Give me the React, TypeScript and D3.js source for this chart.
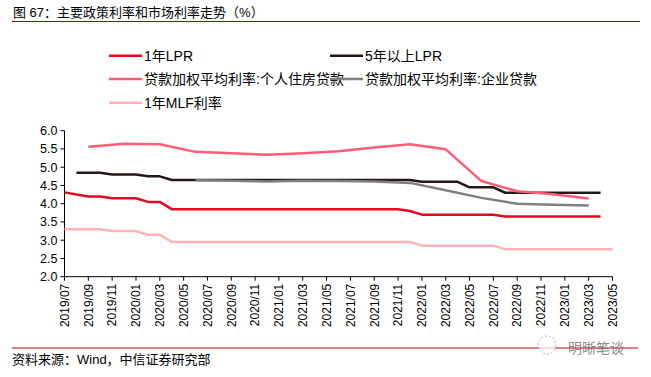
import React from "react";
import * as d3 from "d3";

const months = [
  "2019/07","2019/08","2019/09","2019/10","2019/11","2019/12",
  "2020/01","2020/02","2020/03","2020/04","2020/05","2020/06","2020/07","2020/08","2020/09","2020/10","2020/11","2020/12",
  "2021/01","2021/02","2021/03","2021/04","2021/05","2021/06","2021/07","2021/08","2021/09","2021/10","2021/11","2021/12",
  "2022/01","2022/02","2022/03","2022/04","2022/05","2022/06","2022/07","2022/08","2022/09","2022/10","2022/11","2022/12",
  "2023/01","2023/02","2023/03","2023/04","2023/05",
];

const tickLabels = [
  "2019/07","2019/09","2019/11","2020/01","2020/03","2020/05","2020/07","2020/09","2020/11",
  "2021/01","2021/03","2021/05","2021/07","2021/09","2021/11","2022/01","2022/03","2022/05",
  "2022/07","2022/09","2022/11","2023/01","2023/03","2023/05",
];

const yTicks = [2.0, 2.5, 3.0, 3.5, 4.0, 4.5, 5.0, 5.5, 6.0];

// monthly series (null = no data)
const lpr1y: (number | null)[] = [
  4.31, 4.25, 4.2, 4.2, 4.15, 4.15,
  4.15, 4.05, 4.05, 3.85, 3.85, 3.85, 3.85, 3.85, 3.85, 3.85, 3.85, 3.85,
  3.85, 3.85, 3.85, 3.85, 3.85, 3.85, 3.85, 3.85, 3.85, 3.85, 3.85, 3.8,
  3.7, 3.7, 3.7, 3.7, 3.7, 3.7, 3.7, 3.65, 3.65, 3.65, 3.65, 3.65,
  3.65, 3.65, 3.65, 3.65, null,
];

const lpr5y: (number | null)[] = [
  null, 4.85, 4.85, 4.85, 4.8, 4.8,
  4.8, 4.75, 4.75, 4.65, 4.65, 4.65, 4.65, 4.65, 4.65, 4.65, 4.65, 4.65,
  4.65, 4.65, 4.65, 4.65, 4.65, 4.65, 4.65, 4.65, 4.65, 4.65, 4.65, 4.65,
  4.6, 4.6, 4.6, 4.6, 4.45, 4.45, 4.45, 4.3, 4.3, 4.3, 4.3, 4.3,
  4.3, 4.3, 4.3, 4.3, null,
];

const mlf1y: (number | null)[] = [
  3.3, 3.3, 3.3, 3.3, 3.25, 3.25,
  3.25, 3.15, 3.15, 2.95, 2.95, 2.95, 2.95, 2.95, 2.95, 2.95, 2.95, 2.95,
  2.95, 2.95, 2.95, 2.95, 2.95, 2.95, 2.95, 2.95, 2.95, 2.95, 2.95, 2.95,
  2.85, 2.85, 2.85, 2.85, 2.85, 2.85, 2.85, 2.75, 2.75, 2.75, 2.75, 2.75,
  2.75, 2.75, 2.75, 2.75, 2.75,
];

// quarterly series
const housingMonths = [
  "2019/09","2019/12","2020/03","2020/06","2020/09","2020/12","2021/03","2021/06",
  "2021/09","2021/12","2022/03","2022/06","2022/09","2022/12","2023/03",
];
const housingValues = [5.56, 5.64, 5.63, 5.42, 5.38, 5.34, 5.38, 5.44, 5.54, 5.63, 5.49, 4.62, 4.34, 4.26, 4.14];

const corpMonths = [
  "2020/06","2020/09","2020/12","2021/03","2021/06","2021/09","2021/12",
  "2022/03","2022/06","2022/09","2022/12","2023/03",
];
const corpValues = [4.64, 4.63, 4.61, 4.63, 4.62, 4.61, 4.57, 4.37, 4.16, 4.0, 3.97, 3.95];

const seriesNames = ["1年LPR", "5年以上LPR", "贷款加权平均利率:个人住房贷款", "贷款加权平均利率:企业贷款", "1年MLF利率"];
const seriesColors = ["#E10A1E", "#231815", "#FF5C78", "#808080", "#FFB3B5"];

const FONT = "'Liberation Sans', Arial, 'Noto Sans CJK SC', sans-serif";

export default function App() {
  const W = 651, H = 377;
  const x = d3.scaleLinear().domain([0, months.length - 1]).range([64.5, 612.5]);
  const y = d3.scaleLinear().domain([2, 6]).range([276.7, 130.7]);

  type P = { i: number; v: number | null };
  const line = d3
    .line<P>()
    .defined((d) => d.v !== null)
    .x((d) => x(d.i))
    .y((d) => y(d.v as number));

  const monthly = (arr: (number | null)[]): P[] => arr.map((v, i) => ({ i, v }));
  const quarterly = (ms: string[], vs: number[]): P[] => ms.map((m, k) => ({ i: months.indexOf(m), v: vs[k] }));

  const paths = [
    monthly(lpr1y),
    monthly(lpr5y),
    quarterly(housingMonths, housingValues),
    quarterly(corpMonths, corpValues),
    monthly(mlf1y),
  ];

  const legendPos = [
    { x: 109, y: 55.7 },
    { x: 330, y: 55.7 },
    { x: 109, y: 79 },
    { x: 330, y: 79 },
    { x: 109, y: 102.7 },
  ];

  const x0 = x(0), x1 = x(months.length - 1);
  const yBase = y(2);

  return (
    <svg width={W} height={H} style={{ position: "absolute", left: 0, top: 0, background: "#fff" }} fontFamily={FONT}>
      <rect x={0} y={0} width={W} height={H} fill="#fff" />
      {/* title */}
      <text x={13} y={17} fontSize={13} fill="#000">图 67：主要政策利率和市场利率走势（%）</text>
      <line x1={12} x2={640} y1={21.5} y2={21.5} stroke="#A00000" strokeWidth={1.2} />

      {/* legend */}
      {seriesNames.map((n, k) => (
        <g key={n}>
          <line x1={legendPos[k].x} x2={legendPos[k].x + 33} y1={legendPos[k].y} y2={legendPos[k].y} stroke={seriesColors[k]} strokeWidth={2.5} />
          <text x={legendPos[k].x + 35} y={legendPos[k].y + 5} fontSize={14} fill="#000">{n}</text>
        </g>
      ))}

      {/* y axis */}
      <line x1={x0} x2={x0} y1={y(6)} y2={yBase} stroke="#000" strokeWidth={1} />
      {yTicks.map((t) => (
        <g key={t}>
          <line x1={x0 - 4} x2={x0} y1={y(t)} y2={y(t)} stroke="#000" />
          <text x={x0 - 7} y={y(t) + 4.5} fontSize={12.5} textAnchor="end" fill="#000">{t.toFixed(1)}</text>
        </g>
      ))}

      {/* x axis */}
      <line x1={x0} x2={x1} y1={yBase} y2={yBase} stroke="#000" strokeWidth={1} />
      {tickLabels.map((lab) => {
        const xi = x(months.indexOf(lab));
        return (
          <g key={lab}>
            <line x1={xi} x2={xi} y1={yBase} y2={yBase + 4} stroke="#000" />
            <text
              transform={`translate(${xi + 4.3},${yBase + 7}) rotate(-90)`}
              fontSize={12}
              textAnchor="end"
              fill="#000"
            >
              {lab}
            </text>
          </g>
        );
      })}

      {/* series */}
      {paths.map((p, k) => (
        <path key={k} d={line(p) || ""} fill="none" stroke={seriesColors[k]} strokeWidth={2.5} strokeLinejoin="round" />
      ))}

      {/* footer */}
      <line x1={12} x2={638} y1={348} y2={348} stroke="#CC0000" strokeWidth={1.2} />
      <text x={12} y={364} fontSize={13} fill="#000">资料来源：Wind，中信证券研究部</text>
      <g opacity={0.75}>
        <circle cx={547} cy={345} r={9} fill="#fff" stroke="#999" strokeDasharray="2 2" />
        <text x={568} y={353} fontSize={14} fill="#666">明晰笔谈</text>
      </g>
    </svg>
  );
}
